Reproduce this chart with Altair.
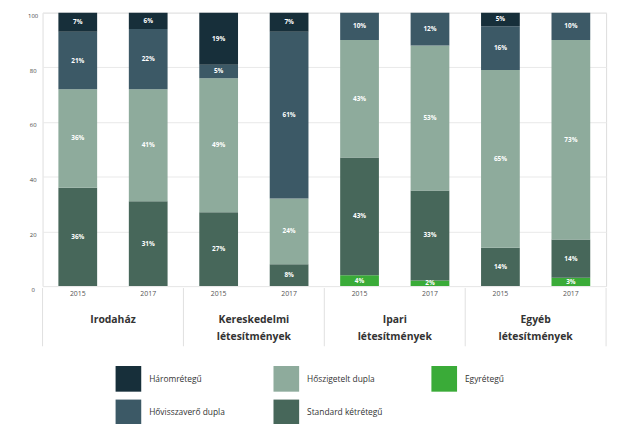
import altair as alt
import pandas as pd

# ---- data ----
groups = ["Irodaház", "Kereskedelmi\nlétesítmények", "Ipari\nlétesítmények", "Egyéb\nlétesítmények"]
years = ["2015", "2017"]
# stack order, bottom -> top
series = ["Egyrétegű", "Standard kétrétegű", "Hőszigetelt dupla", "Hővisszaverő dupla", "Háromrétegű"]
egyretegu = [0, 0, 0, 0, 4, 2, 0, 3]
standard = [36, 31, 27, 8, 43, 33, 14, 14]
hoszigetelt = [36, 41, 49, 24, 43, 53, 65, 73]
hovisszavero = [21, 22, 5, 61, 10, 12, 16, 10]
haromretegu = [7, 6, 19, 7, 0, 0, 5, 0]
values_by_series = [egyretegu, standard, hoszigetelt, hovisszavero, haromretegu]

legend_order = ["Háromrétegű", "Hőszigetelt dupla", "Egyrétegű", "Hővisszaverő dupla", "Standard kétrétegű"]
legend_colors = ["#172f3a", "#8eab9c", "#3aab38", "#3c5966", "#47675a"]

keys = [f"{g.split(chr(10))[0]}|{y}" for g in groups for y in years]

rows = []
for si, (s, vals) in enumerate(zip(series, values_by_series)):
    for k, v in zip(keys, vals):
        rows.append({"key": k, "series": s, "value": v, "order": si})
df = pd.DataFrame(rows)

gdf = pd.DataFrame({"pos": [1, 3, 5, 7], "label": groups})
sdf = pd.DataFrame({"pos": [0, 2, 4, 6, 8]})

xband = alt.Scale(paddingInner=0.45, paddingOuter=0.225)
yscale = alt.Scale(domain=[0, 100], nice=False)
xaxis = alt.Axis(labelExpr="split(datum.label, '|')[1]", labelAngle=0, domain=False,
                 ticks=False, labelFontSize=7, labelColor="#555", labelPadding=4, title=None)
yaxis = alt.Axis(values=[0, 20, 40, 60, 80, 100], grid=True, gridColor="#e9e9e9",
                 domain=False, ticks=False, labelFontSize=6, labelColor="#444",
                 labelPadding=10, labelAlign="center", labelBaseline="top", title=None)

base = alt.Chart(df).transform_filter("datum.value > 0").transform_stack(
    stack="value", groupby=["key"], sort=[alt.SortField("order", order="ascending")], as_=["v0", "v1"]
)

bars = base.mark_bar().encode(
    x=alt.X("key:N", sort=keys, scale=xband, axis=xaxis),
    y=alt.Y("v0:Q", scale=yscale, axis=yaxis),
    y2="v1:Q",
    color=alt.Color("series:N", scale=alt.Scale(domain=legend_order, range=legend_colors),
                    legend=alt.Legend(orient="none", legendX=74, legendY=358, direction="horizontal",
                                      columns=3, symbolType="square", symbolSize=676,
                                      symbolStrokeWidth=0, labelFontSize=8.5, labelColor="#333",
                                      labelOffset=8, columnPadding=49, rowPadding=8, title=None,
                                      padding=0)),
)

labels = base.transform_calculate(
    mid="(datum.v0 + datum.v1) / 2", lab="datum.value + '%'"
).mark_text(color="white", fontWeight="bold", fontSize=6.5).encode(
    x=alt.X("key:N", sort=keys, scale=xband, axis=xaxis),
    y=alt.Y("mid:Q", scale=yscale, axis=yaxis),
    text="lab:N",
)

gscale = alt.Scale(domain=[0, 8], nice=False, zero=False)
seps = alt.Chart(sdf).mark_rule(color="#e0e0e0", strokeWidth=1).encode(
    x=alt.X("pos:Q", scale=gscale, axis=None),
    y=alt.value(279), y2=alt.value(338),
)
glabels = alt.Chart(gdf).mark_text(
    fontWeight="bold", fontSize=10.5, lineBreak="\n", lineHeight=18, color="#333", baseline="middle"
).encode(
    x=alt.X("pos:Q", scale=gscale, axis=None),
    y=alt.value(311),
    text="label:N",
)

chart = alt.layer(alt.layer(bars, labels), alt.layer(seps, glabels)).resolve_scale(
    x="independent"
).properties(
    width=571, height=277,
    padding={"left": 35, "top": 2, "right": 7, "bottom": 137},
    autosize=alt.AutoSizeParams(type="none"),
).configure_view(stroke=None).configure(font="Open Sans", background="white")

chart.save("out.html", embed_options={"renderer": "svg", "actions": False})
